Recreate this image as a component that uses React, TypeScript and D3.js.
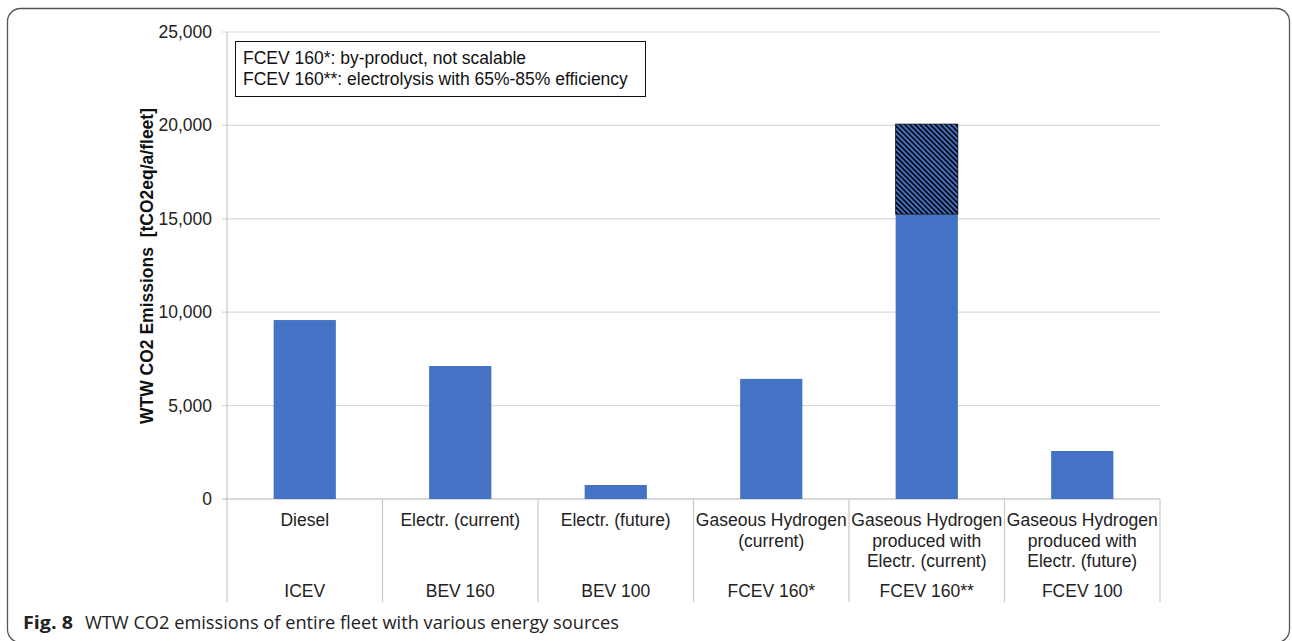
import React from "react";
import * as d3 from "d3";

const categoryLines: string[][] = [
  ["Diesel"],
  ["Electr. (current)"],
  ["Electr. (future)"],
  ["Gaseous Hydrogen", "(current)"],
  ["Gaseous Hydrogen", "produced with", "Electr. (current)"],
  ["Gaseous Hydrogen", "produced with", "Electr. (future)"],
];
const vehicles = ["ICEV", "BEV 160", "BEV 100", "FCEV 160*", "FCEV 160**", "FCEV 100"];
const baseValues = [9580, 7120, 750, 6430, 15250, 2570];
const extraValues = [0, 0, 0, 0, 4820, 0];
const yTicks = [0, 5000, 10000, 15000, 20000, 25000];
const legendLines = [
  "FCEV 160*: by-product, not scalable",
  "FCEV 160**: electrolysis with 65%-85% efficiency",
];

const W = 1292;
const H = 641;
const left = 227;
const right = 1160;
const y0 = 499;
const yTop = 32;
const catBottom = 602;
const font = "'Liberation Sans', Arial, sans-serif";
const fs = 17.5;

export default function App() {
  const x = d3.scaleBand<string>().domain(vehicles).range([left, right]).paddingInner(0.6).paddingOuter(0.3);
  const xs = d3.scaleBand<string>().domain(vehicles).range([left, right]).padding(0);
  const y = d3.scaleLinear().domain([0, 25000]).range([y0, yTop]);
  const fmt = d3.format(",");

  return (
    <svg width={W} height={H} style={{ position: "absolute", left: 0, top: 0, background: "#fff" }}>
      <defs>
        <pattern id="hatch" patternUnits="userSpaceOnUse" width={3.6} height={3.6} patternTransform="rotate(-45)">
          <rect width={3.6} height={3.6} fill="#4472C4" />
          <line x1={0.8} y1={0} x2={0.8} y2={3.6} stroke="#000" strokeWidth={1.6} />
        </pattern>
      </defs>
      <rect x={7.5} y={8.5} width={1282} height={634} rx={13} ry={13} fill="#fff" stroke="#555" strokeWidth={1.3} />

      {/* gridlines */}
      {yTicks.map((t) => (
        <line key={t} x1={left - 5} x2={right} y1={y(t)} y2={y(t)} stroke="#d9d9d9" strokeWidth={1.2} />
      ))}
      {/* y-axis line */}
      <line x1={left} x2={left} y1={yTop} y2={catBottom} stroke="#c8c8c8" strokeWidth={1.2} />
      {/* x axis */}
      <line x1={left - 5} x2={right} y1={y0} y2={y0} stroke="#c8c8c8" strokeWidth={1.2} />
      {vehicles.map((v) => (
        <line key={v} x1={(xs(v) as number) + xs.bandwidth()} x2={(xs(v) as number) + xs.bandwidth()} y1={y0} y2={catBottom} stroke="#c8c8c8" strokeWidth={1.2} />
      ))}

      {/* tick labels */}
      {yTicks.map((t) => (
        <text key={t} x={212} y={y(t) + 6} textAnchor="end" fontFamily={font} fontSize={fs} fill="#222">
          {fmt(t)}
        </text>
      ))}

      {/* y title */}
      <text
        transform={`translate(153, 266) rotate(-90)`}
        textAnchor="middle"
        fontFamily={font}
        fontSize={fs}
        fontWeight="bold"
        fill="#111"
        style={{ whiteSpace: "pre" }}
      >
        {"WTW CO2 Emissions  [tCO2eq/a/fleet]"}
      </text>

      {/* bars */}
      {vehicles.map((v, i) => (
        <g key={v}>
          <rect x={x(v)} y={y(baseValues[i])} width={x.bandwidth()} height={y0 - y(baseValues[i])} fill="#4472C4" />
          {extraValues[i] > 0 && (
            <rect
              x={x(v)}
              y={y(baseValues[i] + extraValues[i])}
              width={x.bandwidth()}
              height={y(baseValues[i]) - y(baseValues[i] + extraValues[i])}
              fill="url(#hatch)"
              stroke="#111"
              strokeWidth={0.8}
            />
          )}
        </g>
      ))}

      {/* category labels */}
      {vehicles.map((v, i) => {
        const cx = (xs(v) as number) + xs.bandwidth() / 2;
        return (
          <g key={v}>
            {categoryLines[i].map((ln, j) => (
              <text key={j} x={cx} y={526 + j * 20.5} textAnchor="middle" fontFamily={font} fontSize={fs} fill="#222">
                {ln}
              </text>
            ))}
            <text x={cx} y={597} textAnchor="middle" fontFamily={font} fontSize={fs} fill="#222">
              {v}
            </text>
          </g>
        );
      })}

      {/* legend box */}
      <rect x={235.5} y={41.5} width={410} height={55} fill="#fff" stroke="#111" strokeWidth={1} />
      {legendLines.map((l, i) => (
        <text key={i} x={243} y={64 + i * 21} fontFamily={font} fontSize={fs} fill="#111">
          {l}
        </text>
      ))}

      {/* caption */}
      <text x={23} y={629} fontFamily="'Open Sans', 'Noto Sans', sans-serif" fontSize={18} fontWeight="bold" fill="#222" textLength={50} lengthAdjust="spacingAndGlyphs">
        Fig. 8
      </text>
      <text x={85} y={629} fontFamily="'Open Sans', 'Noto Sans', sans-serif" fontSize={18} fill="#222" textLength={534} lengthAdjust="spacingAndGlyphs">
        WTW CO2 emissions of entire fleet with various energy sources
      </text>
    </svg>
  );
}
